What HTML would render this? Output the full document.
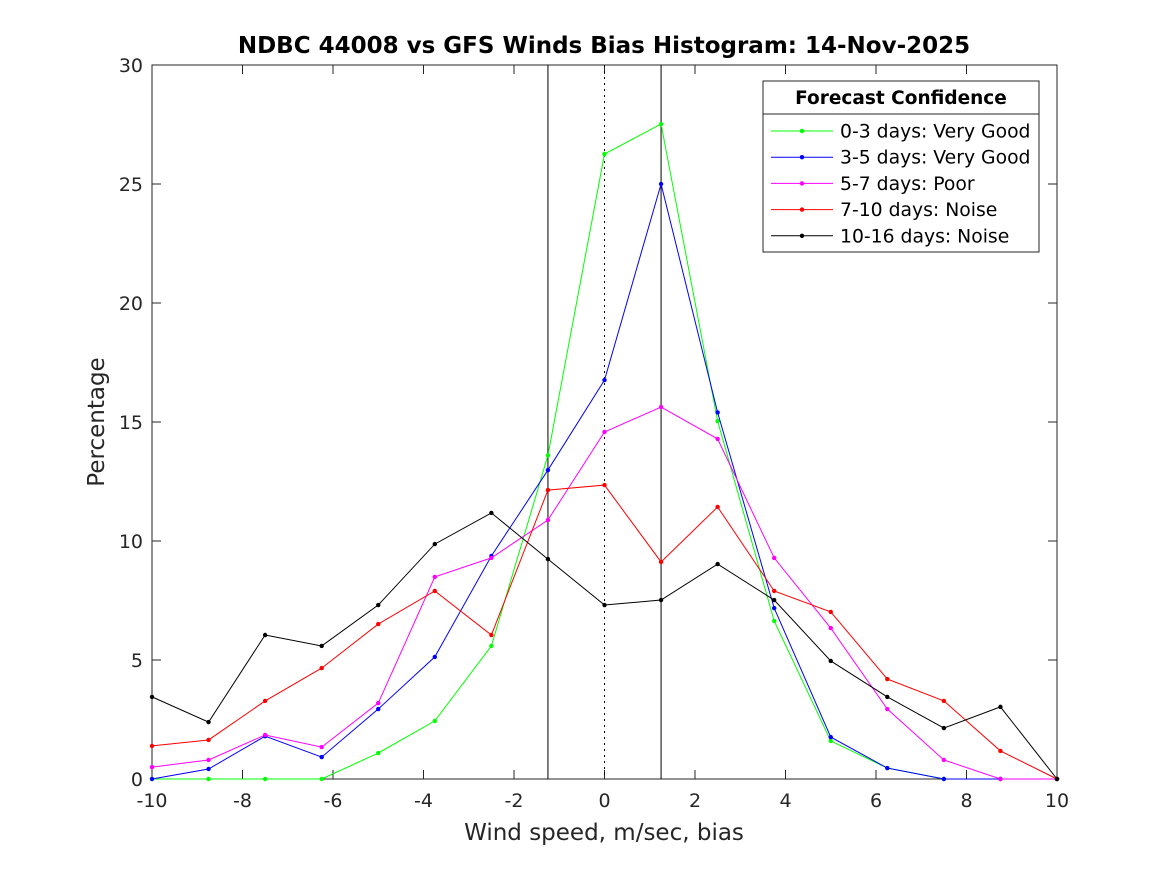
<!DOCTYPE html>
<html><head><meta charset="utf-8"><style>
body{margin:0;background:#fff}
svg text{font-family:"DejaVu Sans","Liberation Sans",sans-serif;fill:#262626}
</style></head><body>
<svg id="chart" width="1167" height="875" viewBox="0 0 1167 875">
<rect width="1167" height="875" fill="#fff"/>
<text x="604" y="53" text-anchor="middle" font-size="23" font-weight="bold" style="fill:#000">NDBC 44008 vs GFS Winds Bias Histogram: 14-Nov-2025</text>
<g id="axes"></g>
<g id="series"></g>
<text x="604" y="840" text-anchor="middle" font-size="23">Wind speed, m/sec, bias</text>
<text transform="translate(104,422) rotate(-90)" text-anchor="middle" font-size="23">Percentage</text>
<g id="legend"></g>
</svg>
<script>
const xValues=[-10,-8.75,-7.5,-6.25,-5,-3.75,-2.5,-1.25,0,1.25,2.5,3.75,5,6.25,7.5,8.75,10];
const seriesNames=["0-3 days: Very Good","3-5 days: Very Good","5-7 days: Poor","7-10 days: Noise","10-16 days: Noise"];
const seriesColors=["#00ff00","#0000ff","#ff00ff","#ff0000","#000000"];
const s0=[0,0,0,0,1.09,2.44,5.59,13.6,26.26,27.52,15.04,6.64,1.6,0.46,0,0,0];
const s1=[0,0.42,1.8,0.92,2.94,5.13,9.37,12.98,16.76,25.0,15.4,7.18,1.76,0.46,0,0,0];
const s2=[0.5,0.8,1.85,1.34,3.19,8.49,9.29,10.88,14.58,15.63,14.29,9.29,6.34,2.94,0.8,0,0];
const s3=[1.39,1.64,3.28,4.66,6.51,7.9,6.05,12.14,12.35,9.12,11.43,7.9,7.02,4.2,3.28,1.18,0];
const s4=[3.45,2.39,6.05,5.59,7.31,9.87,11.18,9.24,7.31,7.52,9.03,7.52,4.96,3.45,2.14,3.03,0];
const seriesData=[s0,s1,s2,s3,s4];
const xTicks=[-10,-8,-6,-4,-2,0,2,4,6,8,10];
const yTicks=[0,5,10,15,20,25,30];
const refLines=[-1.25,0,1.25];

const L=152,R=1057,T=65,B=779;
const sx=v=>L+(v+10)/20*(R-L);
const sy=v=>B-v/30*(B-T);
const NS="http://www.w3.org/2000/svg";
function mk(tag,attrs,parent){const e=document.createElementNS(NS,tag);for(const k in attrs)e.setAttribute(k,attrs[k]);parent.appendChild(e);return e;}
const ax=document.getElementById('axes');
const box=mk('rect',{x:L,y:T,width:R-L,height:B-T,fill:'none',stroke:'#262626','stroke-width':1},ax);


xTicks.forEach(t=>{const x=sx(t);
 mk('line',{x1:x,y1:B,x2:x,y2:B-9,stroke:'#262626'},ax);
 mk('line',{x1:x,y1:T,x2:x,y2:T+9,stroke:'#262626'},ax);
 const tx=mk('text',{x:x,y:B+28,'text-anchor':'middle','font-size':19},ax);tx.textContent=t;
 
 });
yTicks.forEach(t=>{const y=sy(t);
 mk('line',{x1:L,y1:y,x2:L+9,y2:y,stroke:'#262626'},ax);
 mk('line',{x1:R,y1:y,x2:R-9,y2:y,stroke:'#262626'},ax);
 const tx=mk('text',{x:L-9,y:y+7,'text-anchor':'end','font-size':19},ax);tx.textContent=t;
 
 });
refLines.forEach(v=>{const x=sx(v);
 const l=mk('line',{x1:x,y1:T,x2:x,y2:B,stroke:'#000','stroke-width':1},ax);
 if(v===0)l.setAttribute('stroke-dasharray','2,4');
 
 });
const sg=document.getElementById('series');
seriesData.forEach((d,i)=>{
 const g=mk('g',{},sg);
 
 
 mk('polyline',{points:d.map((v,j)=>sx(xValues[j])+','+sy(v)).join(' '),fill:'none',stroke:seriesColors[i],'stroke-width':1},g);
 d.forEach((v,j)=>{const c=mk('circle',{cx:sx(xValues[j]),cy:sy(v),r:2.2,fill:seriesColors[i]},g);
  
  });
});
const lg=document.getElementById('legend');
mk('rect',{x:763,y:81,width:276,height:171,fill:'#fff',stroke:'#262626'},lg);
mk('line',{x1:763,y1:114,x2:1039,y2:114,stroke:'#262626'},lg);
const lt=mk('text',{x:901,y:104,'text-anchor':'middle','font-size':18.5,'font-weight':'bold'},lg);lt.textContent='Forecast Confidence';
lt.style.fill='#000';


seriesNames.forEach((n,i)=>{const y=131+i*26.2;
 const g=mk('g',{},lg);
 
 
 mk('line',{x1:771,y1:y,x2:833,y2:y,stroke:seriesColors[i]},g);
 mk('circle',{cx:802,cy:y,r:2.2,fill:seriesColors[i]},g);
 const t=mk('text',{x:840,y:y+6.5,'font-size':18.8},g);t.textContent=n;
 t.style.fill='#000';});
</script>
</body></html>
